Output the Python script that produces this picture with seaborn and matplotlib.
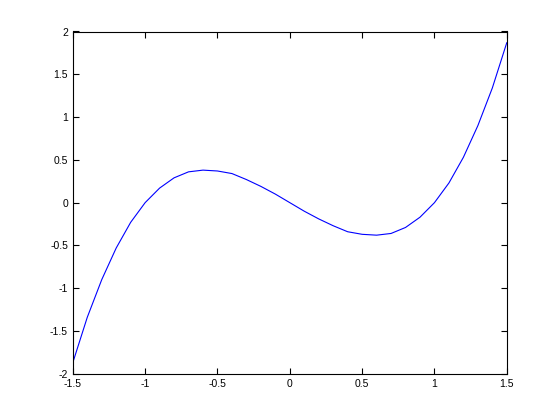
import numpy as np
import pandas as pd
import matplotlib
matplotlib.use('Agg')
import matplotlib.pyplot as plt
import seaborn as sns

# ── Data ──────────────────────────────────────────────────
x_vals = [-1.5, -1.4, -1.3, -1.2, -1.1, -1.0, -0.9, -0.8, -0.7, -0.6, -0.5,
          -0.4, -0.3, -0.2, -0.1, 0.0, 0.1, 0.2, 0.3, 0.4, 0.5,
          0.6, 0.7, 0.8, 0.9, 1.0, 1.1, 1.2, 1.3, 1.4, 1.5]
y_vals = [-1.87, -1.34, -0.90, -0.53, -0.23, 0.0, 0.17, 0.29, 0.36, 0.38, 0.37,
          0.34, 0.27, 0.19, 0.10, 0.0, -0.10, -0.19, -0.27, -0.34, -0.37,
          -0.38, -0.36, -0.29, -0.17, 0.0, 0.23, 0.53, 0.90, 1.34, 1.87]
x_ticks = [-1.5, -1, -0.5, 0, 0.5, 1, 1.5]
x_labels = ['-1.5', '-1', '-0.5', '0', '0.5', '1', '1.5']
y_ticks = [-2, -1.5, -1, -0.5, 0, 0.5, 1, 1.5, 2]
y_labels = ['-2', '-1.5', '-1', '-0.5', '0', '0.5', '1', '1.5', '2']

df = pd.DataFrame({'x': x_vals, 'y': y_vals})

sns.set_style('white')
plt.rcParams['font.family'] = ['Liberation Sans', 'DejaVu Sans']

fig = plt.figure(figsize=(5.6, 4.2), dpi=100)
ax = fig.add_axes([0.13, 0.11, 0.775, 0.815])

sns.lineplot(data=df, x='x', y='y', ax=ax, color='#0000ff', linewidth=0.8,
             sort=False, estimator=None)

ax.set_xlim(-1.5, 1.5)
ax.set_ylim(-2, 2)
ax.set_xticks(x_ticks)
ax.set_xticklabels(x_labels)
ax.set_yticks(y_ticks)
ax.set_yticklabels(y_labels)
ax.set_xlabel('')
ax.set_ylabel('')

for s in ax.spines.values():
    s.set_visible(True)
    s.set_color('black')
    s.set_linewidth(0.8)
ax.tick_params(direction='in', length=4, width=0.8, labelsize=7.5,
               top=True, right=True, bottom=True, left=True, colors='black')

fig.savefig('out.png', dpi=100)
